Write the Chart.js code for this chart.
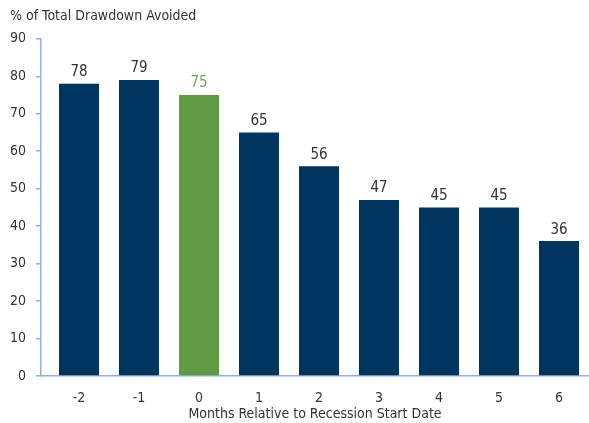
<!DOCTYPE html>
<html>
<head>
<meta charset="utf-8">
<script src="https://cdn.jsdelivr.net/npm/chart.js@4"></script>
<style>
  body { margin: 0; background: #fff; }
  #wrap { width: 589px; height: 423px; }
</style>
</head>
<body>
<div id="wrap"><canvas id="myChart"></canvas></div>
<script>
const months = ["-2", "-1", "0", "1", "2", "3", "4", "5", "6"];
const avoided = [78, 79, 75, 65, 56, 47, 45, 45, 36];
const yTicks = [0, 10, 20, 30, 40, 50, 60, 70, 80, 90];

const font = "'Liberation Sans Narrow', 'DejaVu Sans Condensed', sans-serif";
const navy = "#00355f";
const green = "#5f9b43";
const axisBlue = "#8db3e2";
const textColor = "#333333";

const barColors = months.map(m => (m === "0" ? green : navy));
const labelColors = months.map(m => (m === "0" ? "#73ab56" : textColor));

// value labels above bars
const valueLabels = {
  id: "valueLabels",
  afterDatasetsDraw(chart) {
    const c = chart.ctx;
    const meta = chart.getDatasetMeta(0);
    c.save();
    c.font = "15px " + font;
    c.textAlign = "center";
    c.textBaseline = "bottom";
    meta.data.forEach((bar, i) => {
      c.fillStyle = labelColors[i];
      c.fillText(avoided[i], bar.x, bar.y - 4);
    });
    c.restore();
  },
};

const ctx = document.getElementById("myChart");

new Chart(ctx, {
  type: "bar",
  data: {
    datasets: [
      {
        data: months.map((m, i) => ({ x: Number(m), y: avoided[i] })),
        backgroundColor: barColors,
        barPercentage: 1,
        categoryPercentage: 0.667,
      },
    ],
  },
  options: {
    responsive: true,
    maintainAspectRatio: false,
    animation: false,
    layout: { padding: { left: 10, right: 0, top: 0, bottom: 0 } },
    scales: {
      x: {
        type: "linear",
        offset: false,
        min: -2.6333,
        max: 6.5,
        afterFit(scale) { scale.height = 47; },
        ticks: {
          stepSize: 1,
          includeBounds: false,
          maxRotation: 0,
          padding: 14,
          color: textColor,
          font: { family: font, size: 14 },
          callback: v => months.includes(String(v)) ? String(v) : "",
        },
        grid: { display: false, drawTicks: false, offset: false },
        border: { display: true, color: axisBlue, width: 1.5 },
        title: {
          display: true,
          text: "Months Relative to Recession Start Date",
          color: textColor,
          font: { family: font, size: 14 },
          padding: { top: 0, bottom: 0 },
        },
      },
      y: {
        min: 0,
        max: 90,
        afterFit(scale) { scale.width = 31; },
        afterBuildTicks(scale) { scale.ticks = yTicks.map(v => ({ value: v })); },
        ticks: {
          padding: 10,
          color: textColor,
          font: { family: font, size: 14 },
        },
        grid: {
          drawOnChartArea: false,
          drawTicks: true,
          tickLength: 5,
          color: axisBlue,
          lineWidth: 1.5,
        },
        border: { display: true, color: axisBlue, width: 1.5 },
      },
    },
    plugins: {
      legend: { display: false },
      tooltip: { enabled: false },
      title: {
        display: true,
        text: "% of Total Drawdown Avoided",
        align: "start",
        color: textColor,
        font: { family: font, size: 14, weight: "normal" },
        padding: { top: 8, bottom: 14 },
      },
    },
  },
  plugins: [valueLabels],
});
</script>
</body>
</html>
